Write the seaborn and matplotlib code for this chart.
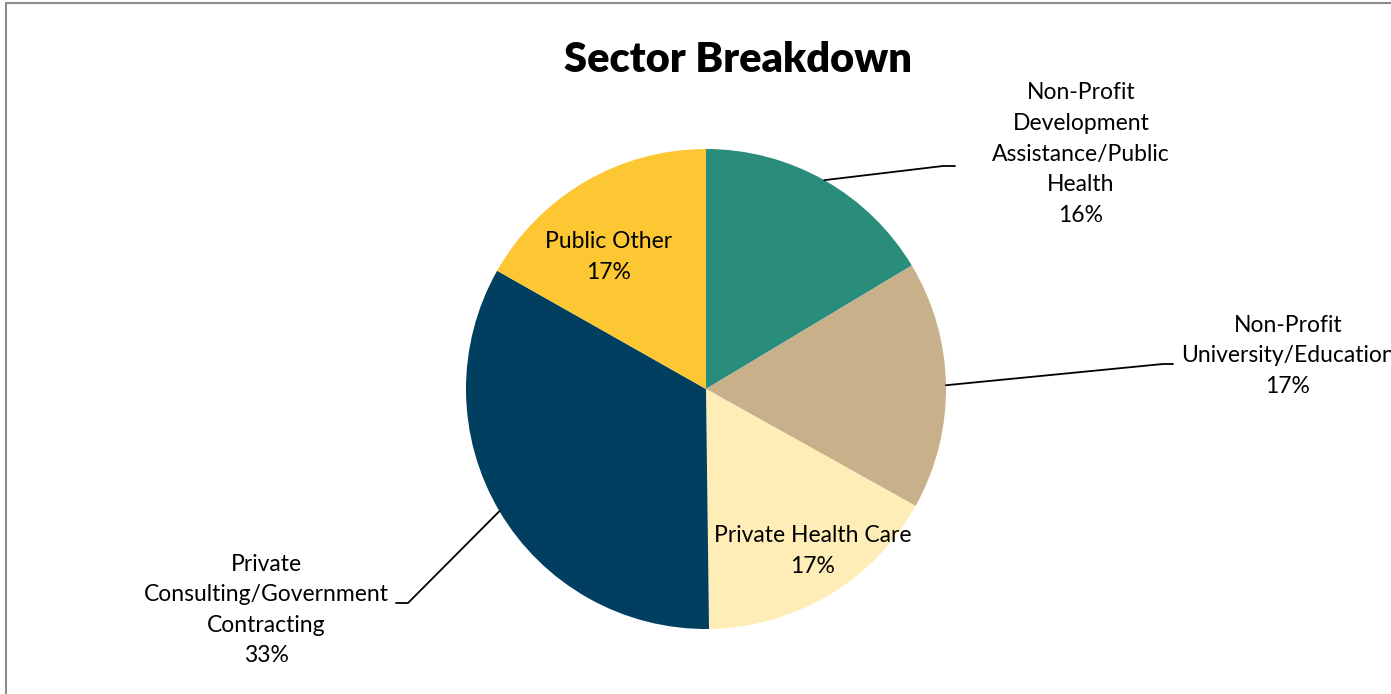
import matplotlib
matplotlib.use("Agg")
import matplotlib.pyplot as plt
import seaborn as sns
import numpy as np

# data
sectors = [
    "Non-Profit\nDevelopment\nAssistance/Public\nHealth",
    "Non-Profit\nUniversity/Education",
    "Private Health Care",
    "Private\nConsulting/Government\nContracting",
    "Public Other",
]
shares = [16.4, 16.7, 16.7, 33.4, 16.8]
colors = ["#2A8C7A", "#C8B08A", "#FFEDB8", "#003F5F", "#FCC733"]

sns.set_theme(style="white")
plt.rcParams['font.family'] = ['Lato', 'DejaVu Sans']

W, H = 1391, 694
CX, CY, R = 706, 389, 240


def px(x, y):
    # pixel position -> data units (pie radius = 1)
    return (x - CX) / R, (CY - y) / R


fig = plt.figure(figsize=(W / 100, H / 100), dpi=100)
ax = fig.add_axes([0, 0, 1, 1])
wedges, _ = ax.pie(shares, colors=sns.color_palette(colors), startangle=90,
                   counterclock=False, radius=1, center=(0, 0),
                   wedgeprops=dict(linewidth=0))
ax.set_xlim(-CX / R, (W - CX) / R)
ax.set_ylim(-(H - CY) / R, CY / R)
ax.set_aspect("equal")
ax.axis("off")

labels = [f"{s}\n{round(v)}%" for s, v in zip(sectors, shares)]
fs = 16.5

# label placement: (text pos, elbow, stub end) in pixels; None = inside
placements = [
    ((1081, 154), (943, 166), (955, 166)),
    ((1288, 356), (1163, 364), (1173, 364)),
    ((813, 551), None, None),
    ((266, 610), (408, 603), (396, 603)),
    ((609, 257), None, None),
]

for w, lab, (tpos, elbow, stub) in zip(wedges, labels, placements):
    ax.text(*px(*tpos), lab, ha="center", va="center", fontsize=fs,
            color="black", linespacing=1.56)
    if elbow is not None:
        mid = np.deg2rad((w.theta1 + w.theta2) / 2)
        x0, y0 = np.cos(mid), np.sin(mid)
        ex, ey = px(*elbow)
        sx, sy = px(*stub)
        ax.plot([x0, ex, sx], [y0, ey, sy], color="black", lw=1.3)

fig.text(738 / W, 1 - 60 / H, "Sector Breakdown", ha="center", va="center",
         fontsize=30, fontweight="heavy", color="black")

# chart area border (cropped on right/bottom)
fig.add_artist(plt.Line2D([6 / W, 6 / W], [0, 1 - 3 / H], color="#8c8c8c",
                          lw=1.5, transform=fig.transFigure))
fig.add_artist(plt.Line2D([6 / W, 1], [1 - 3 / H, 1 - 3 / H], color="#8c8c8c",
                          lw=1.5, transform=fig.transFigure))

fig.savefig("out.png", dpi=100)
